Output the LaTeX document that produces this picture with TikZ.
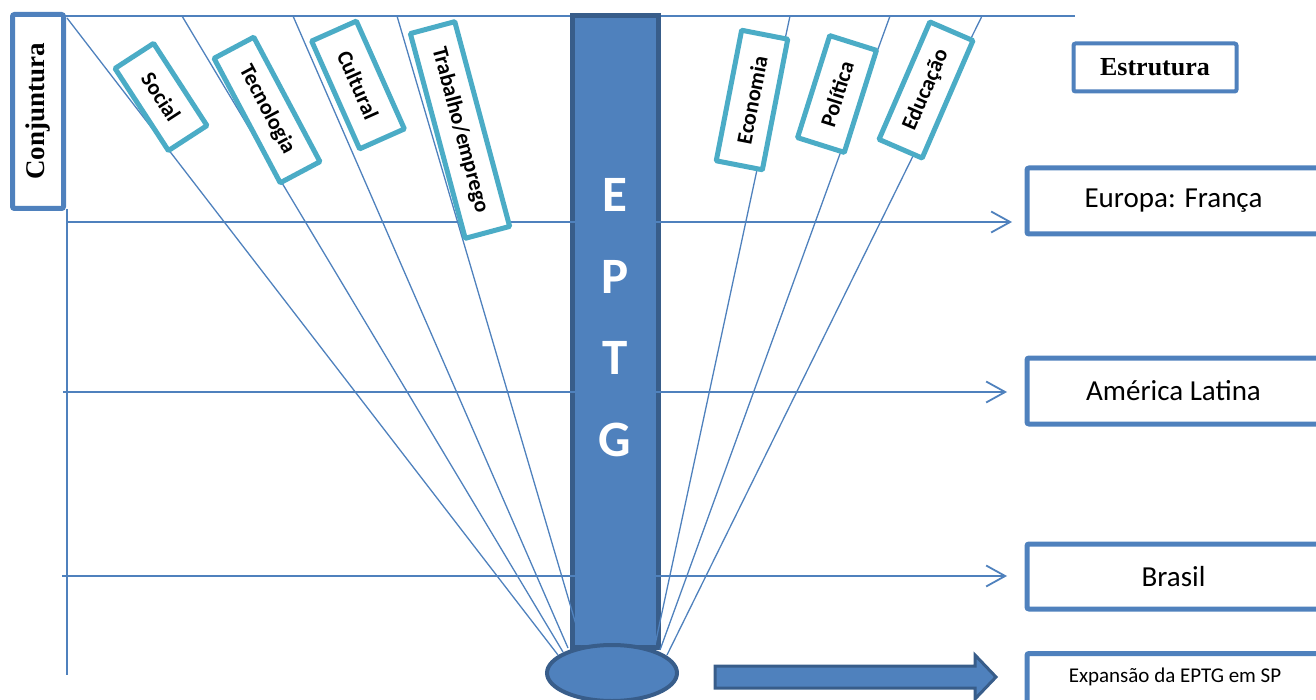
\documentclass[tikz,border=0pt]{standalone}
\usepackage{fontspec}
\newfontfamily\calib{Carlito}
\newfontfamily\tnr{Liberation Serif}
\usetikzlibrary{arrows.meta,shapes.geometric}
\definecolor{lblue}{HTML}{4F81BD}
\definecolor{dblue}{HTML}{385D8A}
\definecolor{tealb}{HTML}{4BACC6}
\begin{document}
\begin{tikzpicture}[x=1pt,y=-1pt,
  fan/.style={draw=lblue,line width=1.3pt},
  hline/.style={draw=lblue,line width=1.8pt,-{Straight Barb[length=19pt,width=21pt,line width=1.8pt]}},
  tealbox/.style={draw=tealb,line width=5pt,fill=white,font=\calib\bfseries\fontsize{22}{25}\selectfont,inner sep=0pt,anchor=center,rounded corners=1pt},
  bluebox/.style={draw=lblue,line width=5pt,fill=white,rounded corners=2pt,inner sep=0pt},
  lab/.style={font=\calib\fontsize{29}{34}\selectfont},
  letter/.style={text=white,font=\calib\bfseries\fontsize{51}{60}\selectfont},
]
\useasboundingbox (0,0) rectangle (1316,700);

% top line and left vertical line
\coordinate (tl) at (65,16);
\coordinate (tr) at (1075,16);
\draw[lblue,line width=1.5pt] (tl) -- (tr);
\coordinate (vt) at (67,209);
\coordinate (vb) at (67,675);
\draw[lblue,line width=1.8pt] (vt) -- (vb);

% EPTG bar
\node[draw=dblue,fill=lblue,line width=5pt,minimum width=86pt,minimum height=631pt,inner sep=0pt] (bar) at (615,331.5) {};
\node[letter] (lE) at (615,195) {E};
\node[letter] (lP) at (615,277) {P};
\node[letter] (lT) at (615,358) {T};
\node[letter] (lG) at (615,440) {G};

% horizontal arrows
\coordinate (h1a) at (67,222);   \coordinate (h1b) at (1012,222);
\coordinate (h2a) at (63,392);   \coordinate (h2b) at (1007,392);
\coordinate (h3a) at (62,576);   \coordinate (h3b) at (1007,576);
\draw[hline] (h1a) -- (h1b);
\draw[hline] (h2a) -- (h2b);
\draw[hline] (h3a) -- (h3b);

% ellipse
\node[ellipse,draw=dblue,fill=lblue,line width=4pt,minimum width=130pt,minimum height=56pt,inner sep=0pt] (ell) at (612,673) {};

% fan lines
\coordinate (s1) at (67,18);   \coordinate (b1) at (558,655);
\coordinate (s2) at (182,16);  \coordinate (b2) at (563,652);
\coordinate (s3) at (293,16);  \coordinate (b3) at (568,648);
\coordinate (s4) at (397,16);  \coordinate (b4) at (582,645);
\coordinate (s5) at (790,16);  \coordinate (b5) at (655,645);
\coordinate (s6) at (890,16);  \coordinate (b6) at (660,650);
\coordinate (s7) at (982,16);  \coordinate (b7) at (667,655);
\foreach \i in {1,...,7} {\draw[fan] (s\i) -- (b\i);}

% teal boxes
\node[tealbox,rotate=-57,minimum width=98pt,minimum height=46pt] (social) at (161,97) {Social};
\node[tealbox,rotate=-62,minimum width=141pt,minimum height=45pt] (tec) at (267,110) {Tecnologia};
\node[tealbox,rotate=-66,minimum width=118pt,minimum height=49pt] (cult) at (358,85) {Cultural};
\node[tealbox,rotate=-75,minimum width=212pt,minimum height=46pt] (trab) at (460,130) {Trabalho/emprego};
\node[tealbox,rotate=79,minimum width=133pt,minimum height=47pt] (econ) at (752,100) {Economia};
\node[tealbox,rotate=72.5,minimum width=107pt,minimum height=49pt] (pol) at (837,94) {Política};
\node[tealbox,rotate=66.6,minimum width=128pt,minimum height=47pt] (edu) at (926,90) {Educação};

% left and right boxes
\node[bluebox,rotate=90,minimum width=194pt,minimum height=51pt,font=\tnr\bfseries\fontsize{27}{31}\selectfont] (conj) at (38,111.5) {Conjuntura};
\node[bluebox,line width=4pt,minimum width=163pt,minimum height=48pt,font=\tnr\bfseries\fontsize{26}{30}\selectfont] (estr) at (1155,67.5) {Estrutura};
\node[bluebox,lab,minimum width=293pt,minimum height=66pt] (eur) at (1173.5,201) {Europa: França};
\node[bluebox,lab,minimum width=293pt,minimum height=66pt] (am) at (1173.5,391) {América Latina};
\node[bluebox,lab,minimum width=293pt,minimum height=65pt] (br) at (1173.5,576.5) {Brasil};
\node[bluebox,minimum width=293pt,minimum height=70pt,anchor=north] (exp) at (1173.5,651) {};
\node[font=\calib\fontsize{21}{25}\selectfont] (exptxt) at (1175,677) {Expansão da EPTG em SP};

% block arrow
\coordinate (ba1) at (715,666);
\coordinate (ba2) at (975,666);
\coordinate (ba3) at (975,655);
\coordinate (ba4) at (996,677);
\coordinate (ba5) at (975,699);
\coordinate (ba6) at (975,688);
\coordinate (ba7) at (715,688);
\draw[draw=dblue,fill=lblue,line width=3pt,line join=miter] (ba1) -- (ba2) -- (ba3) -- (ba4) -- (ba5) -- (ba6) -- (ba7) -- cycle;
\end{tikzpicture}
\end{document}
